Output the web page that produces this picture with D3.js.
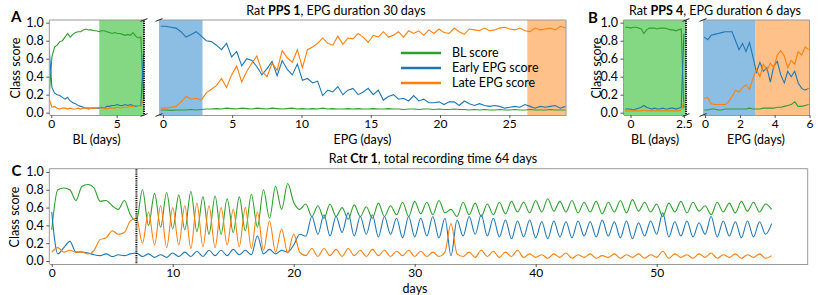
<!DOCTYPE html>
<html>
<head>
<meta charset="UTF-8">
<title>Class score</title>
<style>
  body { margin: 0; background: #fff; }
  svg text { font-family: Lato, "Liberation Sans", sans-serif; fill: #000; }
</style>
</head>
<body>
<div id="chart"></div>
<script src="https://d3js.org/d3.v7.min.js"></script>
<script>
// ---------- data ----------
var yTicks = [0, 0.2, 0.4, 0.6, 0.8, 1.0];
var seriesNames = ["BL score", "Early EPG score", "Late EPG score"];

// panel A, baseline part: days from -0.15, every 0.2 day
var aBlStart = -0.15, aBlStep = 0.2;
var aBlGreen = [0.20,0.62,0.73,0.75,0.79,0.80,0.84,0.88,0.84,0.87,0.89,0.90,0.90,0.92,0.93,0.92,0.92,0.91,0.91,0.90,
  0.91,0.91,0.90,0.89,0.88,0.89,0.88,0.88,0.87,0.86,0.87,0.86,0.89,0.85,0.83,0.84,0.15];
var aBlBlue = [0.70,0.28,0.22,0.20,0.19,0.17,0.15,0.17,0.13,0.11,0.10,0.08,0.07,0.06,0.05,0.05,0.05,0.05,0.05,0.05,
  0.06,0.05,0.07,0.07,0.08,0.08,0.09,0.08,0.08,0.09,0.08,0.09,0.08,0.07,0.08,0.08,0.65];
var aBlOrange = [0.15,0.06,0.07,0.05,0.04,0.05,0.05,0.04,0.05,0.04,0.04,0.05,0.04,0.05,0.05,0.04,0.05,0.05,0.05,0.06,
  0.05,0.05,0.04,0.05,0.05,0.05,0.06,0.05,0.06,0.06,0.06,0.07,0.07,0.08,0.08,0.07,0.15];

// panel A, EPG part: days from -0.15, every 0.365 day
var aEpStart = -0.15, aEpStep = 0.365;
var aEpGreen = [0.03,0.03,0.025,0.03,0.03,0.03,0.035,0.03,0.035,0.04,
  0.04,0.045,0.04,0.05,0.045,0.04,0.05,0.045,0.04,0.05,
  0.045,0.04,0.05,0.045,0.04,0.045,0.05,0.04,0.045,0.04,
  0.045,0.04,0.05,0.04,0.045,0.04,0.04,0.045,0.04,0.045,
  0.04,0.04,0.045,0.04,0.04,0.045,0.04,0.04,0.035,0.04,
  0.04,0.035,0.04,0.04,0.035,0.04,0.035,0.035,0.04,0.035,
  0.035,0.03,0.035,0.03,0.035,0.03,0.03,0.035,0.03,0.03,
  0.035,0.03,0.03,0.035,0.03,0.03,0.03,0.035,0.03,0.03,
  0.03];
var aEpBlue = [0.96,0.96,0.95,0.94,0.90,0.84,0.87,0.90,0.85,0.80,
  0.79,0.75,0.70,0.77,0.62,0.68,0.52,0.60,0.58,0.51,
  0.42,0.49,0.57,0.41,0.58,0.48,0.42,0.54,0.36,0.38,
  0.33,0.35,0.19,0.25,0.23,0.29,0.20,0.25,0.27,0.20,
  0.23,0.27,0.20,0.25,0.14,0.18,0.20,0.15,0.16,0.13,
  0.19,0.13,0.15,0.11,0.11,0.12,0.09,0.12,0.12,0.08,
  0.13,0.10,0.08,0.10,0.08,0.07,0.08,0.07,0.05,0.06,
  0.07,0.06,0.09,0.07,0.05,0.07,0.06,0.07,0.08,0.05,
  0.07];
var aEpOrange = [0.05,0.05,0.06,0.07,0.12,0.18,0.15,0.16,0.14,0.22,
  0.26,0.30,0.38,0.28,0.42,0.52,0.34,0.46,0.55,0.63,
  0.46,0.40,0.55,0.47,0.69,0.61,0.56,0.70,0.50,0.70,
  0.73,0.77,0.83,0.77,0.75,0.85,0.76,0.83,0.82,0.88,
  0.84,0.78,0.86,0.84,0.90,0.84,0.86,0.90,0.84,0.91,
  0.88,0.91,0.86,0.92,0.88,0.93,0.89,0.88,0.94,0.90,
  0.87,0.93,0.92,0.91,0.94,0.91,0.92,0.94,0.95,0.93,
  0.92,0.94,0.91,0.90,0.94,0.92,0.93,0.94,0.92,0.96,
  0.94];

// panel B, baseline part: days from -0.25, every 0.125 day
var bBlStart = -0.25, bBlStep = 0.125;
var bBlGreen = [0.95,0.95,0.94,0.95,0.95,0.94,0.93,0.88,0.92,0.94,0.94,0.94,0.93,0.94,0.94,0.94,0.93,0.92,0.92,0.91,0.92,0.93,0.05];
var bBlBlue = [0.04,0.04,0.04,0.03,0.04,0.05,0.06,0.08,0.06,0.05,0.04,0.05,0.04,0.04,0.05,0.04,0.04,0.05,0.05,0.04,0.05,0.06,0.88];
var bBlOrange = [0.02,0.02,0.02,0.02,0.02,0.02,0.02,0.03,0.02,0.02,0.02,0.02,0.02,0.02,0.02,0.02,0.02,0.02,0.02,0.02,0.02,0.03,0.12];

// panel B, EPG part: days from -0.05, every 0.2 day
var bEpStart = -0.05, bEpStep = 0.2;
var bEpGreen = [0.03,0.03,0.04,0.04,0.03,0.03,0.04,0.04,0.04,0.04,0.04,0.04,0.04,0.05,0.04,0.04,0.04,0.05,0.05,0.05,
  0.05,0.06,0.06,0.07,0.08,0.09,0.12,0.07,0.07,0.08,0.09];
var bEpBlue = [0.84,0.81,0.86,0.87,0.88,0.89,0.90,0.90,0.90,0.80,0.70,0.77,0.68,0.78,0.62,0.45,0.56,0.46,0.50,0.34,
  0.52,0.57,0.42,0.33,0.46,0.40,0.46,0.33,0.27,0.25,0.27];
var bEpOrange = [0.16,0.17,0.10,0.09,0.09,0.09,0.09,0.12,0.18,0.25,0.23,0.28,0.31,0.26,0.38,0.48,0.40,0.54,0.47,0.55,
  0.50,0.64,0.69,0.63,0.50,0.58,0.54,0.68,0.64,0.73,0.70];

// panel C: days from 0, every 0.5 day
var cStart = 0, cStep = 0.5;
var cGreen = [0.35,0.80,0.82,0.80,0.68,0.84,0.86,0.82,0.67,0.68,0.62,0.58,0.68,0.52,0.45,0.80,0.40,0.76,0.38,0.77,
  0.36,0.74,0.35,0.78,0.33,0.72,0.30,0.73,0.30,0.70,0.32,0.72,0.34,0.75,0.38,0.80,0.48,0.84,0.58,0.87,
  0.66,0.58,0.64,0.50,0.62,0.48,0.64,0.50,0.60,0.47,0.63,0.50,0.61,0.48,0.65,0.50,0.62,0.52,0.66,0.50,
  0.67,0.53,0.66,0.52,0.68,0.54,0.58,0.50,0.66,0.52,0.65,0.50,0.64,0.52,0.66,0.53,0.67,0.55,0.66,0.54,
  0.68,0.55,0.70,0.56,0.67,0.55,0.68,0.54,0.66,0.55,0.67,0.53,0.66,0.55,0.68,0.54,0.69,0.56,0.66,0.55,
  0.64,0.50,0.65,0.55,0.67,0.54,0.66,0.56,0.62,0.52,0.66,0.55,0.65,0.54,0.67,0.56,0.66,0.55,0.64,0.58];
var cBlue = [0.55,0.08,0.15,0.22,0.10,0.10,0.09,0.07,0.06,0.08,0.05,0.07,0.06,0.08,0.09,0.05,0.08,0.04,0.07,0.04,
  0.09,0.05,0.10,0.05,0.11,0.05,0.12,0.06,0.12,0.06,0.13,0.07,0.12,0.07,0.28,0.08,0.13,0.08,0.12,0.10,
  0.18,0.30,0.28,0.50,0.30,0.52,0.28,0.50,0.32,0.54,0.28,0.50,0.30,0.52,0.27,0.50,0.30,0.48,0.26,0.50,
  0.27,0.48,0.28,0.50,0.26,0.48,0.06,0.46,0.28,0.50,0.30,0.52,0.28,0.48,0.27,0.46,0.25,0.45,0.27,0.46,
  0.26,0.44,0.25,0.45,0.27,0.44,0.26,0.45,0.28,0.44,0.27,0.46,0.28,0.44,0.26,0.45,0.25,0.43,0.28,0.45,
  0.30,0.54,0.27,0.44,0.28,0.45,0.27,0.43,0.30,0.50,0.27,0.45,0.28,0.44,0.26,0.45,0.27,0.44,0.30,0.42];
var cOrange = [0.10,0.15,0.10,0.12,0.10,0.10,0.08,0.12,0.24,0.26,0.34,0.30,0.32,0.45,0.48,0.20,0.55,0.18,0.62,0.15,
  0.60,0.18,0.62,0.14,0.65,0.16,0.62,0.15,0.60,0.18,0.58,0.16,0.60,0.14,0.55,0.12,0.45,0.10,0.36,0.09,
  0.30,0.10,0.06,0.14,0.05,0.14,0.06,0.13,0.05,0.14,0.06,0.12,0.05,0.13,0.06,0.12,0.05,0.11,0.06,0.12,
  0.05,0.11,0.05,0.10,0.05,0.10,0.42,0.08,0.05,0.10,0.04,0.12,0.05,0.11,0.04,0.10,0.05,0.12,0.04,0.08,
  0.04,0.07,0.03,0.08,0.04,0.09,0.03,0.07,0.04,0.08,0.03,0.06,0.04,0.08,0.03,0.07,0.04,0.08,0.03,0.07,
  0.04,0.11,0.03,0.08,0.04,0.07,0.03,0.08,0.04,0.09,0.03,0.07,0.04,0.08,0.03,0.07,0.04,0.08,0.03,0.06];

// ---------- style ----------
var cGreenLine = "#2ca02c", cBlueLine = "#1f77b4", cOrangeLine = "#ff7f0e";
var spanGreen = "#84d884", spanBlue = "#8cbee3", spanOrange = "#ffc18a";
var spineColor = "#9a9a9a";

var width = 822, height = 295;
var svg = d3.select("#chart").append("svg")
  .attr("width", width).attr("height", height);

var clipN = 0;
// draws one set of axes
function part(o) {
  var x = d3.scaleLinear().domain(o.xDomain).range([o.left, o.right]);
  var y = d3.scaleLinear().domain(o.yDomain).range([o.bottom, o.top]);
  var g = svg.append("g");
  var id = "clip" + (clipN++);
  svg.append("clipPath").attr("id", id).append("rect")
    .attr("x", o.left).attr("y", o.top)
    .attr("width", o.right - o.left).attr("height", o.bottom - o.top);
  var inner = g.append("g").attr("clip-path", "url(#" + id + ")");

  (o.spans || []).forEach(function(s) {
    inner.append("rect")
      .attr("x", x(s.from)).attr("y", o.top)
      .attr("width", x(s.to) - x(s.from)).attr("height", o.bottom - o.top)
      .attr("fill", s.color);
  });

  o.series.forEach(function(s) {
    var line = d3.line()
      .x(function(d, i) { return x(o.start + i * o.step); })
      .y(function(d) { return y(d); })
      .curve(o.curve || d3.curveLinear);
    inner.append("path").datum(s.values)
      .attr("d", line)
      .attr("fill", "none")
      .attr("stroke", s.color)
      .attr("stroke-width", 1.1);
  });

  // x axis (also bottom spine)
  var gx = g.append("g")
    .attr("transform", "translate(0," + o.bottom + ")")
    .call(d3.axisBottom(x).tickValues(o.xTicks).tickFormat(o.xFormat || d3.format("d"))
      .tickSize(3).tickSizeOuter(0).tickPadding(1.5));
  gx.select(".domain").attr("stroke", spineColor);
  gx.selectAll(".tick line").attr("stroke", "#555");
  gx.selectAll("text").attr("font-size", 12);

  // top spine
  g.append("line").attr("x1", o.left).attr("x2", o.right)
    .attr("y1", o.top).attr("y2", o.top).attr("stroke", spineColor);

  if (o.yAxis) {
    var gy = g.append("g")
      .attr("transform", "translate(" + o.left + ",0)")
      .call(d3.axisLeft(y).tickValues(yTicks).tickFormat(d3.format(".1f"))
        .tickSize(3).tickSizeOuter(0).tickPadding(2.5));
    gy.select(".domain").attr("stroke", spineColor).attr("d", "M0," + o.top + "V" + o.bottom);
    gy.selectAll(".tick line").attr("stroke", "#555");
    gy.selectAll("text").attr("font-size", 12.5);
  }
  if (o.rightSpine) {
    g.append("line").attr("x1", o.right).attr("x2", o.right)
      .attr("y1", o.top).attr("y2", o.bottom).attr("stroke", spineColor);
  }
  // dotted boundary line
  (o.dotted || []).forEach(function(d) {
    g.append("line").attr("x1", x(d)).attr("x2", x(d))
      .attr("y1", o.top + 0.5).attr("y2", o.bottom)
      .attr("stroke", "#111").attr("stroke-width", 2)
      .attr("stroke-dasharray", "1.2,1");
  });
  // small diagonal break marks
  (o.breaks || []).forEach(function(bx) {
    [o.top, o.bottom].forEach(function(by) {
      g.append("line")
        .attr("x1", bx - 3.5).attr("y1", by + 1.4)
        .attr("x2", bx + 3.5).attr("y2", by - 1.4)
        .attr("stroke", "#222").attr("stroke-width", 1);
    });
  });
  return { x: x, y: y, g: g };
}

function series(green, blue, orange) {
  return [
    { color: cGreenLine, values: green },
    { color: cBlueLine, values: blue },
    { color: cOrangeLine, values: orange }
  ];
}

// ----- panel A -----
var topAB = 20, bottomAB = 115, yDomAB = [-0.026, 1.03];
part({
  left: 49.3, right: 144, top: topAB, bottom: bottomAB,
  xDomain: [-0.15, 7.09], yDomain: yDomAB, yAxis: true,
  xTicks: [0, 5], start: aBlStart, step: aBlStep,
  spans: [{ from: 3.67, to: 7.2, color: spanGreen }],
  series: series(aBlGreen, aBlBlue, aBlOrange),
  dotted: [7.09], breaks: [144]
});
part({
  left: 159, right: 566, top: topAB, bottom: bottomAB,
  xDomain: [-0.28, 29.09], yDomain: yDomAB,
  xTicks: [0, 5, 10, 15, 20, 25], start: aEpStart, step: aEpStep,
  spans: [{ from: -0.3, to: 2.86, color: spanBlue }, { from: 26.3, to: 29.2, color: spanOrange }],
  series: series(aEpGreen, aEpBlue, aEpOrange),
  rightSpine: true, breaks: [159]
});

// legend
var legendColors = [cGreenLine, cBlueLine, cOrangeLine];
var legend = svg.selectAll(".legend").data(seriesNames).enter().append("g")
  .attr("class", "legend")
  .attr("transform", function(d, i) { return "translate(401," + (53 + i * 15) + ")"; });
legend.append("line").attr("x1", 0).attr("x2", 40).attr("y1", 0).attr("y2", 0)
  .attr("stroke", function(d, i) { return legendColors[i]; }).attr("stroke-width", 2.5);
legend.append("text").attr("x", 51).attr("y", 0).attr("dy", "0.35em")
  .attr("font-size", 12.5).text(function(d) { return d; });

// ----- panel B -----
part({
  left: 623.5, right: 686, top: topAB, bottom: bottomAB,
  xDomain: [-0.33, 2.6], yDomain: yDomAB, yAxis: true,
  xTicks: [0, 2.5], xFormat: function(d) { return d === 0 ? "0" : "2.5"; },
  start: bBlStart, step: bBlStep,
  spans: [{ from: -0.4, to: 2.7, color: spanGreen }],
  series: series(bBlGreen, bBlBlue, bBlOrange),
  dotted: [2.6], breaks: [686]
});
part({
  left: 703, right: 809.5, top: topAB, bottom: bottomAB,
  xDomain: [-0.12, 6.0], yDomain: yDomAB,
  xTicks: [0, 2, 4, 6], start: bEpStart, step: bEpStep,
  spans: [{ from: -0.2, to: 2.9, color: spanBlue }, { from: 2.9, to: 6.1, color: spanOrange }],
  series: series(bEpGreen, bEpBlue, bEpOrange),
  rightSpine: true, breaks: [703]
});

// ----- panel C -----
part({
  left: 49.3, right: 807.7, top: 168.7, bottom: 264,
  xDomain: [-0.2, 62.48], yDomain: [-0.034, 1.037], yAxis: true,
  xTicks: [0, 10, 20, 30, 40, 50], start: cStart, step: cStep,
  curve: d3.curveMonotoneX,
  series: series(cGreen, cBlue, cOrange),
  rightSpine: true, dotted: [7.0]
});

// ----- texts -----
function label(txt, x, y, opts) {
  opts = opts || {};
  var t = svg.append("text").attr("x", x).attr("y", y)
    .attr("font-size", opts.size || 12.5)
    .attr("text-anchor", opts.anchor || "middle")
    .text(txt);
  if (opts.bold) t.attr("font-weight", "bold");
  if (opts.rotate) t.attr("transform", "rotate(-90," + x + "," + y + ")");
  return t;
}
function title(x, y, name, rest) {
  var t = svg.append("text").attr("x", x).attr("y", y)
    .attr("font-size", 12.5).attr("text-anchor", "middle");
  t.append("tspan").text("Rat ");
  t.append("tspan").attr("font-weight", "bold").text(name);
  t.append("tspan").text(rest);
}
title(336, 14.5, "PPS 1", ", EPG duration 30 days");
title(715, 14.5, "PPS 4", ", EPG duration 6 days");
title(433, 163, "Ctr 1", ", total recording time 64 days");

label("A", 11, 22, { size: 15, bold: true, anchor: "start" });
label("B", 588, 22.5, { size: 15, bold: true, anchor: "start" });
label("C", 11.5, 175.5, { size: 15, bold: true, anchor: "start" });

label("Class score", 20, 68, { rotate: true });
label("Class score", 600.5, 68, { rotate: true });
label("Class score", 19, 217, { rotate: true });

label("BL (days)", 96.5, 143.5);
label("EPG (days)", 362.5, 143.5);
label("BL (days)", 655, 143.5);
label("EPG (days)", 756, 143.5);
label("days", 415, 292.5);
</script>
</body>
</html>
